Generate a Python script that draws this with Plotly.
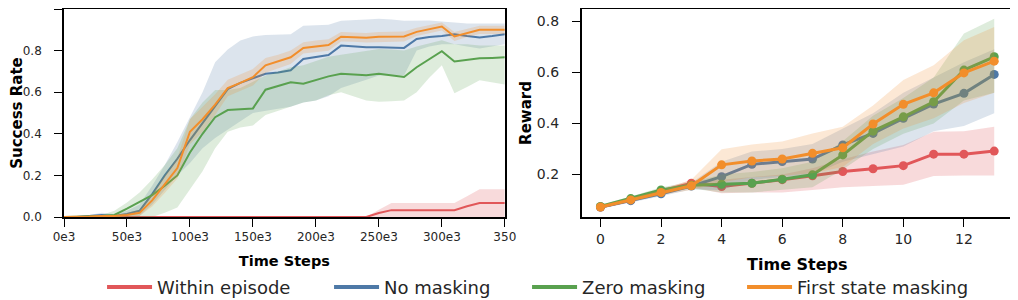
import plotly.graph_objects as go

# ---------------- data: left panel (success rate vs time steps) ----------------
t_steps = [i * 10000 for i in range(36)]

red_mean = [0.0] * 25 + [0.019, 0.033, 0.033, 0.033, 0.033, 0.033, 0.033, 0.052, 0.067, 0.067, 0.067]
red_up = [0.0] * 25 + [0.035, 0.067, 0.067, 0.067, 0.067, 0.067, 0.067, 0.100, 0.133, 0.133, 0.133]
red_lo = [0.0] * 36

blue_mean = [0.0, 0.0, 0.005, 0.01, 0.005, 0.015, 0.03, 0.11, 0.2, 0.28, 0.37, 0.45, 0.53, 0.615,
             0.645, 0.668, 0.689, 0.695, 0.705, 0.76, 0.77, 0.779, 0.824, 0.82, 0.816, 0.816, 0.814,
             0.813, 0.856, 0.865, 0.87, 0.879, 0.87, 0.863, 0.87, 0.879]
blue_up = [0.0, 0.005, 0.01, 0.02, 0.015, 0.03, 0.06, 0.15, 0.25, 0.36, 0.48, 0.6, 0.744, 0.805,
           0.848, 0.868, 0.875, 0.877, 0.879, 0.92, 0.922, 0.924, 0.943, 0.945, 0.95, 0.953, 0.95,
           0.943, 0.945, 0.945, 0.94, 0.935, 0.93, 0.93, 0.93, 0.93]
blue_lo = [0.0, 0.0, 0.0, 0.0, 0.0, 0.0, 0.005, 0.06, 0.13, 0.2, 0.26, 0.33, 0.38, 0.42, 0.46, 0.5,
           0.51, 0.52, 0.53, 0.55, 0.56, 0.58, 0.62, 0.64, 0.66, 0.68, 0.68, 0.68, 0.8, 0.82, 0.83,
           0.83, 0.82, 0.81, 0.82, 0.83]

green_mean = [0.0, 0.0, 0.003, 0.005, 0.01, 0.04, 0.073, 0.105, 0.15, 0.2, 0.31, 0.4, 0.48, 0.514,
              0.518, 0.522, 0.612, 0.63, 0.648, 0.641, 0.658, 0.676, 0.689, 0.686, 0.682, 0.689,
              0.682, 0.673, 0.72, 0.76, 0.797, 0.748, 0.755, 0.763, 0.765, 0.768]
green_up = [0.005, 0.005, 0.01, 0.01, 0.03, 0.07, 0.118, 0.18, 0.25, 0.33, 0.47, 0.55, 0.61, 0.61,
            0.62, 0.65, 0.68, 0.7, 0.72, 0.73, 0.75, 0.77, 0.78, 0.79, 0.8, 0.808, 0.805, 0.8, 0.82,
            0.835, 0.85, 0.83, 0.83, 0.825, 0.825, 0.824]
green_lo = [0.0, 0.0, 0.0, 0.0, 0.0, 0.0, 0.0, 0.0, 0.02, 0.046, 0.133, 0.22, 0.33, 0.41, 0.43, 0.44,
            0.49, 0.51, 0.53, 0.55, 0.56, 0.585, 0.6, 0.58, 0.56, 0.554, 0.557, 0.56, 0.6, 0.67, 0.73,
            0.595, 0.625, 0.657, 0.647, 0.637]

orange_mean = [0.0, 0.0, 0.002, 0.005, 0.005, 0.01, 0.02, 0.08, 0.155, 0.235, 0.41, 0.47, 0.54, 0.62,
               0.645, 0.672, 0.729, 0.748, 0.768, 0.813, 0.82, 0.827, 0.867, 0.865, 0.862, 0.866,
               0.866, 0.868, 0.89, 0.903, 0.916, 0.868, 0.885, 0.9, 0.9, 0.9]
orange_up = [0.002, 0.002, 0.005, 0.01, 0.01, 0.02, 0.035, 0.11, 0.195, 0.285, 0.47, 0.53, 0.59, 0.66,
             0.685, 0.712, 0.765, 0.78, 0.8, 0.84, 0.848, 0.855, 0.89, 0.888, 0.885, 0.89, 0.89,
             0.892, 0.91, 0.922, 0.935, 0.89, 0.905, 0.92, 0.92, 0.92]
orange_lo = [0.0, 0.0, 0.0, 0.0, 0.0, 0.0, 0.005, 0.05, 0.115, 0.185, 0.35, 0.41, 0.49, 0.58, 0.605,
             0.632, 0.693, 0.716, 0.736, 0.786, 0.792, 0.799, 0.844, 0.842, 0.839, 0.842, 0.842,
             0.844, 0.87, 0.884, 0.897, 0.846, 0.865, 0.88, 0.88, 0.88]

left_tickvals = [0, 50000, 100000, 150000, 200000, 250000, 300000, 350000]
left_ticktext = ["0e3", "50e3", "100e3", "150e3", "200e3", "250e3", "300e3", "350"]

# ---------------- data: right panel (reward vs time steps) ----------------
k_steps = list(range(14))

r_red = [0.073, 0.100, 0.135, 0.166, 0.153, 0.166, 0.180, 0.195, 0.212, 0.223, 0.235, 0.280, 0.280, 0.292]
r_red_up = [0.080, 0.108, 0.145, 0.178, 0.180, 0.190, 0.200, 0.225, 0.260, 0.290, 0.316, 0.368, 0.370, 0.387]
r_red_lo = [0.066, 0.092, 0.125, 0.150, 0.127, 0.130, 0.130, 0.140, 0.150, 0.155, 0.160, 0.194, 0.196, 0.196]

r_blue = [0.073, 0.098, 0.125, 0.155, 0.192, 0.240, 0.251, 0.261, 0.316, 0.361, 0.420, 0.476, 0.518, 0.592]
r_blue_up = [0.080, 0.106, 0.135, 0.168, 0.250, 0.290, 0.300, 0.320, 0.380, 0.440, 0.520, 0.580, 0.640, 0.690]
r_blue_lo = [0.066, 0.090, 0.115, 0.142, 0.140, 0.180, 0.190, 0.200, 0.250, 0.280, 0.310, 0.370, 0.390, 0.440]

r_green = [0.075, 0.106, 0.140, 0.158, 0.162, 0.166, 0.182, 0.199, 0.277, 0.370, 0.426, 0.485, 0.609, 0.661]
r_green_up = [0.082, 0.114, 0.150, 0.170, 0.200, 0.210, 0.225, 0.250, 0.330, 0.430, 0.500, 0.580, 0.752, 0.810]
r_green_lo = [0.068, 0.098, 0.130, 0.146, 0.130, 0.130, 0.140, 0.150, 0.220, 0.300, 0.360, 0.400, 0.490, 0.520]

r_orange = [0.073, 0.101, 0.130, 0.156, 0.238, 0.253, 0.261, 0.283, 0.305, 0.398, 0.475, 0.520, 0.598, 0.644]
r_orange_up = [0.080, 0.109, 0.140, 0.180, 0.299, 0.318, 0.329, 0.361, 0.387, 0.470, 0.570, 0.628, 0.726, 0.778]
r_orange_lo = [0.066, 0.093, 0.120, 0.140, 0.170, 0.190, 0.195, 0.205, 0.230, 0.320, 0.380, 0.420, 0.480, 0.520]

names = ["Within episode", "No masking", "Zero masking", "First state masking"]
colors = ["#e15759", "#4e79a7", "#59a14f", "#f28e2b"]
fills = ["rgba(225,87,89,0.22)", "rgba(78,121,167,0.2)", "rgba(89,161,79,0.2)", "rgba(242,142,43,0.2)"]
legend_widths = [167, 138, 155, 180]

left_series = [(red_mean, red_up, red_lo), (blue_mean, blue_up, blue_lo),
               (green_mean, green_up, green_lo), (orange_mean, orange_up, orange_lo)]
right_series = [(r_red, r_red_up, r_red_lo), (r_blue, r_blue_up, r_blue_lo),
                (r_green, r_green_up, r_green_lo), (r_orange, r_orange_up, r_orange_lo)]

fig = go.Figure()

for (m, up, lo), c, f in zip(left_series, colors, fills):
    fig.add_trace(go.Scatter(x=t_steps + t_steps[::-1], y=up + lo[::-1], fill="toself",
                             fillcolor=f, line=dict(width=0), mode="lines",
                             hoverinfo="skip", showlegend=False, xaxis="x", yaxis="y"))
    fig.add_trace(go.Scatter(x=t_steps, y=m, mode="lines", line=dict(color=c, width=2),
                             showlegend=False, xaxis="x", yaxis="y"))

for (m, up, lo), c, f in zip(right_series, colors, fills):
    fig.add_trace(go.Scatter(x=k_steps + k_steps[::-1], y=up + lo[::-1], fill="toself",
                             fillcolor=f, line=dict(width=0), mode="lines",
                             hoverinfo="skip", showlegend=False, xaxis="x2", yaxis="y2"))
    fig.add_trace(go.Scatter(x=k_steps, y=m, mode="lines+markers",
                             line=dict(color=c, width=3), marker=dict(color=c, size=9),
                             showlegend=False, xaxis="x2", yaxis="y2"))

for n, c, w in zip(names, colors, legend_widths):
    fig.add_trace(go.Scatter(x=[None], y=[None], mode="lines", name=n,
                             line=dict(color=c, width=4), legendwidth=w,
                             xaxis="x2", yaxis="y2"))

axis_common = dict(showline=True, linecolor="black", linewidth=1.6, mirror=True,
                   ticks="outside", ticklen=8, tickwidth=1.4, tickcolor="black",
                   showgrid=False, zeroline=False)
fam = "DejaVu Sans"
txt = "#262626"

# the page body adds an 8px offset, so the figure is 8px smaller than the window
fig.update_layout(
    width=1010, height=292,
    margin=dict(l=56, r=4.5, t=1, b=83.3, autoexpand=False),
    paper_bgcolor="white", plot_bgcolor="white",
    font=dict(family=fam, color=txt),
    xaxis=dict(domain=[0, 0.4645], range=[0, 350000], tickvals=left_tickvals,
               ticktext=left_ticktext, tickfont=dict(size=12, family=fam, color=txt),
               title=dict(text="<b>Time Steps</b>", font=dict(size=14.5, family=fam, color="black"),
                          standoff=13),
               **axis_common),
    yaxis=dict(domain=[0, 1], range=[0, 1], tickvals=[0, 0.2, 0.4, 0.6, 0.8, 1.0],
               tickformat=".1f", tickfont=dict(size=12, family=fam, color=txt),
               ticklabelstandoff=10,
               title=dict(text="<b>Success Rate</b>", font=dict(size=15, family=fam, color="black"),
                          standoff=15),
               **axis_common),
    xaxis2=dict(domain=[0.5455, 1], range=[-0.62, 13.62], tickvals=[0, 2, 4, 6, 8, 10, 12],
                tickfont=dict(size=14, family=fam, color=txt), anchor="y2",
                title=dict(text="<b>Time Steps</b>", font=dict(size=16, family=fam, color="black"),
                           standoff=13),
                **axis_common),
    yaxis2=dict(domain=[0, 1], range=[0.034, 0.848], tickvals=[0.2, 0.4, 0.6, 0.8],
                tickformat=".1f", tickfont=dict(size=14, family=fam, color=txt), anchor="x2",
                ticklabelstandoff=10,
                title=dict(text="<b>Reward</b>", font=dict(size=15, family=fam, color="black"),
                           standoff=2),
                **axis_common),
    legend=dict(orientation="h", x=0.0401, y=-0.3385, xanchor="left", yanchor="middle",
                itemwidth=45,
                font=dict(size=18, family=fam, color=txt), bgcolor="rgba(0,0,0,0)",
                borderwidth=0),
)

fig.write_html("out.html")
